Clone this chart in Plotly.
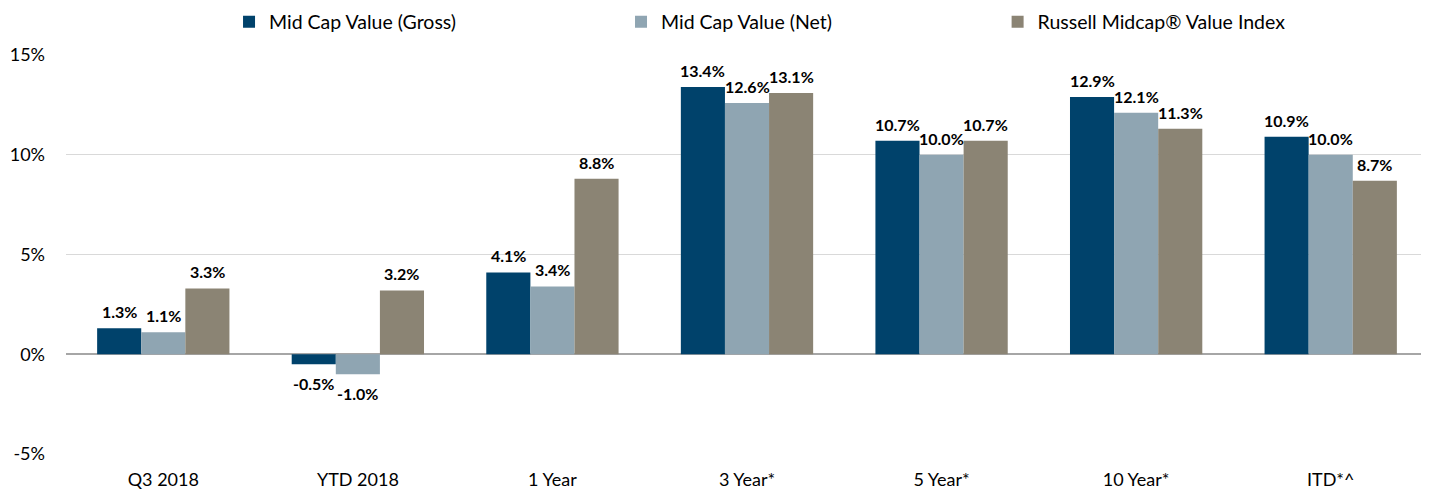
import plotly.graph_objects as go

categories = ["Q3 2018", "YTD 2018", "1 Year", "3 Year*", "5 Year*", "10 Year*", "ITD*^"]
gross = [1.3, -0.5, 4.1, 13.4, 10.7, 12.9, 10.9]
net = [1.1, -1.0, 3.4, 12.6, 10.0, 12.1, 10.0]
index_vals = [3.3, 3.2, 8.8, 13.1, 10.7, 11.3, 8.7]
series_names = ["Mid Cap Value (Gross)", "Mid Cap Value (Net)", "Russell Midcap\u00ae Value Index"]
colors = ["#00426B", "#8FA5B2", "#8B8474"]
ytick_vals = [-5, 0, 5, 10, 15]
ytick_text = ["-5%", "0%", "5%", "10%", "15%"]

FONT = "Lato"
W, H = 1421, 481
ML, MR, MT, MB = 58, 1, 47, 35
BARGAP = 0.32

fig = go.Figure()
legends = ["legend", "legend2", "legend3"]
all_series = [gross, net, index_vals]
for name, vals, col, lg in zip(series_names, all_series, colors, legends):
    fig.add_trace(go.Bar(
        x=categories, y=vals, name=name, marker_color=col,
        marker_line_width=0, showlegend=True, legend=lg,
    ))

# data labels placed via annotations so their gap to the bars can be tuned
plot_w = W - ML - MR
bar_w = plot_w / len(categories) * (1 - BARGAP) / len(all_series)
for i, vals in enumerate(all_series):
    offset = (i - 1) * bar_w
    for c, v in zip(categories, vals):
        fig.add_annotation(
            x=c, y=v, xref="x", yref="y", text=f"<b>{v:.1f}%</b>", showarrow=False,
            xshift=offset, yanchor="bottom" if v >= 0 else "top",
            yshift=5 if v >= 0 else -8,
            font=dict(family=FONT, size=16, color="#000000"),
        )

leg_common = dict(orientation="h", yref="container", yanchor="middle", y=1 - 14 / H,
                  xanchor="left",
                  font=dict(family=FONT, size=19.5, color="#000000"),
                  bgcolor="rgba(0,0,0,0)", itemwidth=30)
fig.update_layout(
    width=W, height=H,
    margin=dict(l=ML, r=MR, t=MT, b=MB, autoexpand=False),
    paper_bgcolor="white", plot_bgcolor="white",
    barmode="group", bargap=BARGAP, bargroupgap=0,
    font=dict(family=FONT, size=18, color="#000000"),
    showlegend=True,
    legend=dict(x=0.1197, **leg_common),
    legend2=dict(x=0.4075, **leg_common),
    legend3=dict(x=0.684, **leg_common),
    xaxis=dict(showgrid=False, ticks="", ticklabelstandoff=13, automargin=False,
               tickfont=dict(family=FONT, size=18, color="#000000"), showline=False),
    yaxis=dict(range=[-5, 15], tickvals=ytick_vals, ticktext=ytick_text,
               showgrid=True, gridcolor="#D9D9D9", gridwidth=1, automargin=False,
               zeroline=True, zerolinecolor="#A6A6A6", zerolinewidth=2,
               ticklabelstandoff=20,
               tickfont=dict(family=FONT, size=18, color="#000000")),
)
fig.write_html("out.html")
